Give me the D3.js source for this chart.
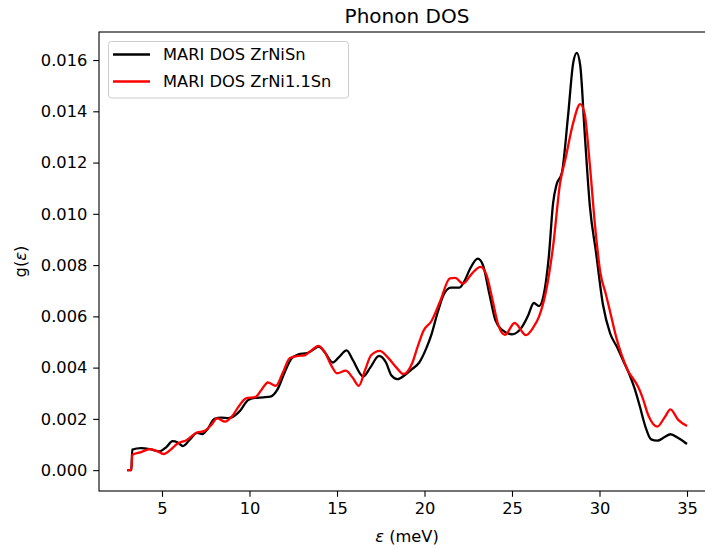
<!DOCTYPE html>
<html>
<head>
<meta charset="utf-8">
<script src="https://cdn.jsdelivr.net/npm/d3@7"></script>
<style>
  html, body { margin: 0; padding: 0; background: #fff; }
  svg { display: block; font-family: "DejaVu Sans", sans-serif; }
</style>
</head>
<body>
<svg id="chart" width="705" height="548"></svg>
<script>
// Energy grid (meV) and density of states for each sample
const energyZrNiSn = [3.0, 3.25, 3.3, 3.8, 4.3, 4.85, 5.25, 5.6, 5.9, 6.2, 6.6, 7.0, 7.3, 7.6, 8.0, 8.4, 8.8, 9.2, 9.5, 9.9,
  10.3, 10.8, 11.2, 11.6, 12.0, 12.4, 12.8, 13.3, 13.6, 13.95, 14.3, 14.75, 15.1, 15.55, 15.9, 16.5, 16.9, 17.4, 17.8, 18.1,
  18.45, 18.9, 19.3, 19.7, 20.1, 20.4, 20.75, 21.1, 21.5, 22.0, 22.3, 22.6, 23.05, 23.35, 23.7, 24.05, 24.45, 25.0, 25.5, 25.9,
  26.25, 26.55, 26.8, 27.1, 27.35, 27.55, 27.85, 28.2, 28.5, 28.7, 28.9, 29.15, 29.45, 29.8, 30.2, 30.6, 31.0, 31.4, 31.7, 32.0,
  32.3, 32.6, 32.95, 33.3, 33.7, 34.05, 34.5, 35.0];
const dosZrNiSn = [0, 0, 0.00080, 0.00086, 0.00082, 0.00073, 0.00090, 0.00113, 0.00108, 0.00094, 0.00120, 0.00145, 0.00141, 0.00160, 0.00200, 0.00205, 0.00203, 0.00215, 0.00235, 0.00272,
  0.00282, 0.00284, 0.00287, 0.00315, 0.00380, 0.00435, 0.00452, 0.00457, 0.00468, 0.00482, 0.00460, 0.00420, 0.00440, 0.00467, 0.00430, 0.00365, 0.00400, 0.00446, 0.00420, 0.00370,
  0.00355, 0.00372, 0.00395, 0.00420, 0.00475, 0.00530, 0.00615, 0.00685, 0.00712, 0.00712, 0.00740, 0.00785, 0.00825, 0.00798, 0.00690, 0.00585, 0.00546, 0.00530, 0.00552, 0.00600,
  0.00652, 0.00640, 0.00680, 0.00830, 0.01043, 0.01115, 0.01160, 0.01380, 0.01590, 0.01628, 0.01578, 0.01320, 0.01030, 0.00850, 0.00645, 0.00535, 0.00480, 0.00420, 0.00375, 0.00320,
  0.00250, 0.00175, 0.00120, 0.00115, 0.00128, 0.00140, 0.00125, 0.00102];

const energyZrNi11Sn = [3.0, 3.25, 3.3, 3.8, 4.3, 4.7, 5.1, 5.5, 5.85, 6.4, 7.0, 7.4, 7.8, 8.15, 8.6, 9.0, 9.4, 9.8, 10.35, 10.7,
  11.05, 11.5, 11.9, 12.3, 12.7, 13.15, 13.5, 13.95, 14.3, 14.7, 15.0, 15.5, 15.9, 16.25, 16.6, 16.95, 17.45, 17.9, 18.4, 18.8,
  19.3, 19.6, 19.95, 20.4, 20.9, 21.45, 21.75, 22.2, 22.7, 23.2, 23.55, 23.9, 24.2, 24.6, 25.15, 25.8, 26.2, 26.55, 26.95, 27.35,
  27.75, 28.05, 28.5, 28.9, 29.15, 29.45, 29.75, 30.05, 30.35, 30.6, 30.95, 31.6, 32.2, 32.45, 32.8, 33.3, 33.75, 34.05, 34.5, 35.0];
const dosZrNi11Sn = [0, 0, 0.00059, 0.00070, 0.00082, 0.00075, 0.00063, 0.00080, 0.00102, 0.00117, 0.00147, 0.00152, 0.00175, 0.00202, 0.00189, 0.00210, 0.00250, 0.00280, 0.00286, 0.00315,
  0.00342, 0.00329, 0.00380, 0.00437, 0.00445, 0.00448, 0.00465, 0.00485, 0.00460, 0.00405, 0.00378, 0.00388, 0.00360, 0.00329, 0.00390, 0.00448, 0.00465, 0.00440, 0.00400, 0.00375,
  0.00418, 0.00480, 0.00545, 0.00582, 0.00660, 0.00748, 0.00750, 0.00728, 0.00766, 0.00793, 0.00760, 0.00660, 0.00570, 0.00528, 0.00574, 0.00527, 0.00555, 0.00600, 0.00700, 0.00874,
  0.01121, 0.01213, 0.01356, 0.01428, 0.01390, 0.01190, 0.00950, 0.00770, 0.00690, 0.00620, 0.00520, 0.00392, 0.00326, 0.00285, 0.00212, 0.00170, 0.00209, 0.00237, 0.00196, 0.00172];

const seriesNames = ["MARI DOS ZrNiSn", "MARI DOS ZrNi1.1Sn"];
const seriesColors = ["#000000", "#ff0000"];
const xTicks = [5, 10, 15, 20, 25, 30, 35];
const yTicks = [0, 0.002, 0.004, 0.006, 0.008, 0.010, 0.012, 0.014, 0.016];

const series = [
  { name: seriesNames[0], color: seriesColors[0], pts: energyZrNiSn.map((e, i) => [e, dosZrNiSn[i]]) },
  { name: seriesNames[1], color: seriesColors[1], pts: energyZrNi11Sn.map((e, i) => [e, dosZrNi11Sn[i]]) }
];

const svg = d3.select("#chart");
const plotLeft = 99, plotTop = 32, plotRight = 715, plotBottom = 491;

// Axis limits padded by 5% of the data range on each side
const xMin = 3.0, xMax = 35.0;
const yMinData = 0, yMaxData = d3.max(series.flatMap(s => s.pts.map(p => p[1])));
const xPad = (xMax - xMin) * 0.05, yPad = (yMaxData - yMinData) * 0.05;

const x = d3.scaleLinear().domain([xMin - xPad, xMax + xPad]).range([plotLeft, plotRight]);
const y = d3.scaleLinear().domain([yMinData - yPad, yMaxData + yPad]).range([plotBottom, plotTop]);

const plot = svg.append("g");
plot.append("clipPath").attr("id", "clip")
  .append("rect").attr("x", plotLeft).attr("y", plotTop).attr("width", plotRight - plotLeft).attr("height", plotBottom - plotTop);

const line = d3.line().x(d => x(d[0])).y(d => y(d[1])).curve(d3.curveMonotoneX);

plot.append("g").attr("clip-path", "url(#clip)")
  .selectAll("path").data(series).join("path")
  .attr("d", d => line(d.pts))
  .attr("fill", "none")
  .attr("stroke", d => d.color)
  .attr("stroke-width", 2.3)
  .attr("stroke-linejoin", "round");

// Axes
const tickFont = 16.3;
const xAxis = svg.append("g").attr("transform", `translate(0,${plotBottom})`)
  .call(d3.axisBottom(x).tickValues(xTicks).tickSize(5.8).tickPadding(5.8).tickFormat(d3.format("d")));
const yAxis = svg.append("g").attr("transform", `translate(${plotLeft},0)`)
  .call(d3.axisLeft(y).tickValues(yTicks).tickSize(5.8).tickPadding(5.8).tickFormat(d3.format(".3f")));
[xAxis, yAxis].forEach(g => {
  g.select(".domain").remove();
  g.selectAll(".tick line").attr("stroke", "#000").attr("stroke-width", 1.1);
  g.selectAll(".tick text").attr("font-size", tickFont).attr("fill", "#000").attr("font-family", "DejaVu Sans");
});

// Frame (spines)
svg.append("rect").attr("x", plotLeft).attr("y", plotTop).attr("width", plotRight - plotLeft).attr("height", plotBottom - plotTop)
  .attr("fill", "none").attr("stroke", "#000").attr("stroke-width", 1.1);

// Title and axis labels
svg.append("text").attr("x", (plotLeft + plotRight) / 2).attr("y", 23).attr("text-anchor", "middle")
  .attr("font-size", 20).text("Phonon DOS");

const xl = svg.append("text").attr("x", (plotLeft + plotRight) / 2).attr("y", 542).attr("text-anchor", "middle")
  .attr("font-size", tickFont);
xl.append("tspan").attr("font-style", "italic").text("ε");
xl.append("tspan").text(" (meV)");

const yl = svg.append("text").attr("transform", `translate(26,${(plotTop + plotBottom) / 2}) rotate(-90)`)
  .attr("text-anchor", "middle").attr("font-size", tickFont);
yl.append("tspan").text("g(");
yl.append("tspan").attr("font-style", "italic").text("ε");
yl.append("tspan").text(")");

// Legend
const lg = svg.append("g");
lg.append("rect").attr("x", 108.5).attr("y", 41.5).attr("width", 240).attr("height", 56.5)
  .attr("rx", 3).attr("fill", "#fff").attr("fill-opacity", 0.8).attr("stroke", "#cccccc").attr("stroke-width", 1);
series.forEach((s, i) => {
  const cy = 54.5 + i * 27;
  lg.append("line").attr("x1", 113).attr("x2", 150).attr("y1", cy).attr("y2", cy)
    .attr("stroke", s.color).attr("stroke-width", 2.3);
  lg.append("text").attr("x", 163).attr("y", cy).attr("dy", "0.35em")
    .attr("font-size", tickFont).text(s.name);
});
</script>
</body>
</html>
